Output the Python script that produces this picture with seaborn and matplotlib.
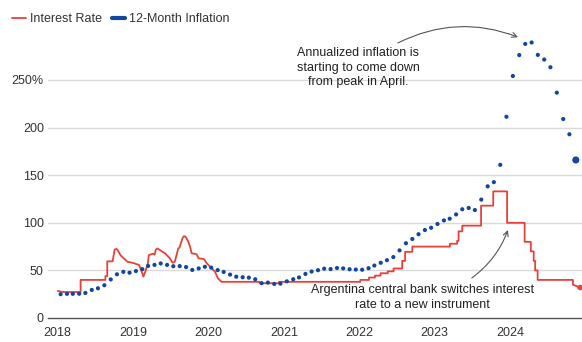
import matplotlib
matplotlib.use("Agg")
import matplotlib.pyplot as plt
from matplotlib.lines import Line2D
import pandas as pd
import seaborn as sns

# ---------------- data ----------------
rate_dates = [
    "2018-01-01", "2018-01-20", "2018-02-05", "2018-04-22", "2018-04-22",
    "2018-08-20", "2018-08-20", "2018-08-29", "2018-08-29", "2018-09-24",
    "2018-10-04", "2018-10-14", "2018-10-22", "2018-11-01", "2018-12-05",
    "2018-12-30", "2019-01-30", "2019-02-08", "2019-02-20", "2019-03-02",
    "2019-03-14", "2019-03-18", "2019-04-08", "2019-04-15", "2019-04-22",
    "2019-04-30", "2019-05-20", "2019-06-05", "2019-06-28", "2019-07-12",
    "2019-07-22", "2019-08-08", "2019-08-14", "2019-08-29", "2019-09-05",
    "2019-09-12", "2019-09-24", "2019-10-04", "2019-10-12", "2019-11-05",
    "2019-11-14", "2019-12-10", "2019-12-25", "2020-01-08", "2020-02-02",
    "2020-02-16", "2020-03-05", "2020-09-05", "2020-09-05", "2020-12-08",
    "2020-12-08", "2022-01-06", "2022-01-06", "2022-02-17", "2022-02-17",
    "2022-03-18", "2022-03-18", "2022-04-14", "2022-04-14", "2022-05-19",
    "2022-05-19", "2022-06-16", "2022-06-16", "2022-07-28", "2022-07-28",
    "2022-08-11", "2022-08-11", "2022-09-15", "2022-09-15", "2023-03-16",
    "2023-03-16", "2023-04-20", "2023-04-20", "2023-04-27", "2023-04-27",
    "2023-05-15", "2023-05-15", "2023-08-14", "2023-08-14", "2023-10-12",
    "2023-10-12", "2023-12-18", "2023-12-18", "2024-03-12", "2024-03-12",
    "2024-04-11", "2024-04-11", "2024-04-25", "2024-04-25", "2024-05-02",
    "2024-05-02", "2024-05-14", "2024-05-14", "2024-11-01", "2024-11-01",
    "2024-12-06",
]
rate_values = [
    28.5, 27.5, 27.25, 27.25, 40,
    40, 44, 44, 59.5, 59.5,
    72, 72.5, 70, 66, 59,
    58, 55.7, 51, 43.5, 49,
    57.4, 66, 67.6, 66.5, 72,
    73, 70, 68, 62.7, 58,
    59, 73, 74, 84, 86,
    85.4, 81, 75, 68, 67,
    62.7, 62, 57.4, 54, 48.7,
    41.7, 38, 38, 36.5, 36.5,
    38, 38, 40, 40, 42.5,
    42.5, 44.5, 44.5, 47, 47,
    49, 49, 52, 52, 60,
    60, 69.5, 69.5, 75, 75,
    78, 78, 81, 81, 91,
    91, 97, 97, 118, 118,
    133, 133, 100, 100, 80,
    80, 70, 70, 60, 60,
    50, 50, 40, 40, 35,
    32,
]

inflation_values = [
    25.0, 25.4, 25.4, 25.5, 26.3, 29.5, 31.2, 34.4, 40.5, 45.9, 48.5, 47.6,
    49.3, 51.3, 54.7, 55.8, 57.3, 55.8, 54.4, 54.5, 53.5, 50.5, 52.1, 53.8,
    52.9, 50.3, 48.4, 45.6, 43.4, 42.8, 42.4, 40.7, 36.6, 37.2, 35.8, 36.1,
    38.5, 40.7, 42.6, 46.3, 48.8, 50.2, 51.8, 51.4, 52.5, 52.1, 51.2, 50.9,
    50.7, 52.3, 55.1, 58.0, 60.7, 64.0, 71.0, 78.5, 83.0, 88.0, 92.4, 94.8,
    98.8, 102.5, 104.3, 108.8, 114.2, 115.6, 113.4, 124.4, 138.3, 142.7, 160.9, 211.4,
    254.2, 276.2, 287.9, 289.4, 276.4, 271.5, 263.4, 236.7, 209.0, 193.0, 166.0,
]

year_ticks = [2018, 2019, 2020, 2021, 2022, 2023, 2024]
y_ticks = [0, 50, 100, 150, 200, 250]
y_tick_labels = ["0", "50", "100", "150", "200", "250%"]

RED = "#e8413a"
BLUE = "#11479e"
TXT = "#333333"
FS = 9

# ---------------- frames ----------------
rate_df = pd.DataFrame({"date": pd.to_datetime(rate_dates), "rate": rate_values})
infl_dates = pd.date_range("2018-01-01", periods=len(inflation_values), freq="MS") + pd.Timedelta(days=14)
infl_df = pd.DataFrame({"date": infl_dates, "inflation": inflation_values})

# ---------------- style ----------------
sns.set_style("white")
plt.rcParams["font.family"] = ["Liberation Sans", "DejaVu Sans"]
plt.rcParams["font.size"] = FS

fig = plt.figure(figsize=(5.82, 3.42), dpi=100)
ax = fig.add_axes([48 / 582, 24 / 342, 534 / 582, (318 - 32.4) / 342])

for v in y_ticks[1:]:
    ax.axhline(v, color="#dadada", lw=1.0, zorder=0)

sns.lineplot(data=rate_df, x="date", y="rate", estimator=None, sort=False,
             color=RED, lw=1.3, ax=ax, zorder=3)
sns.scatterplot(data=infl_df, x="date", y="inflation", color=BLUE, s=9,
                edgecolor="none", ax=ax, zorder=4, clip_on=False)

last_inf = infl_df.iloc[[-1]]
sns.scatterplot(data=last_inf, x="date", y="inflation", color=BLUE, s=26,
                edgecolor="none", ax=ax, zorder=5, clip_on=False)
last_rate = rate_df.iloc[[-1]]
sns.scatterplot(data=last_rate, x="date", y="rate", color=RED, s=16,
                edgecolor="none", ax=ax, zorder=5, clip_on=False)

ax.set_xlim(pd.Timestamp("2017-11-15"), pd.Timestamp("2024-12-15"))
ax.set_ylim(0, 300)
ax.set_yticks(y_ticks)
ax.set_yticklabels(y_tick_labels)
ax.set_xticks([pd.Timestamp(f"{y}-01-01") for y in year_ticks])
ax.set_xticklabels([str(y) for y in year_ticks])
ax.tick_params(axis="both", length=0, colors=TXT, labelsize=FS)
ax.tick_params(axis="x", pad=6.5)
ax.tick_params(axis="y", pad=3)
ax.set_xlabel("")
ax.set_ylabel("")
for s in ["top", "right", "left"]:
    ax.spines[s].set_visible(False)
ax.spines["bottom"].set_color("#555555")
ax.spines["bottom"].set_linewidth(1.0)
ax.patch.set_alpha(0)

# ---------------- annotations ----------------
ax.text(pd.Timestamp("2021-12-27"), 263,
        "Annualized inflation is\nstarting to come down\nfrom peak in April.",
        ha="center", va="center", fontsize=FS, color="#222222", linespacing=1.3,
        zorder=6)
ax.annotate("", xy=(pd.Timestamp("2024-02-09"), 295),
            xytext=(pd.Timestamp("2022-07-07"), 288.9),
            arrowprops=dict(arrowstyle="->", color="#555555", lw=0.8,
                            connectionstyle="arc3,rad=-0.22",
                            shrinkA=0, shrinkB=0),
            annotation_clip=False)

ax.text(pd.Timestamp("2022-11-05"), 21.5,
        "Argentina central bank switches interest\nrate to a new instrument",
        ha="center", va="center", fontsize=FS, color="#222222", linespacing=1.3,
        zorder=6)
ax.annotate("", xy=(pd.Timestamp("2023-12-22"), 92.4),
            xytext=(pd.Timestamp("2023-06-30"), 42),
            arrowprops=dict(arrowstyle="->", color="#555555", lw=0.8,
                            connectionstyle="arc3,rad=0.15",
                            shrinkA=0, shrinkB=0))

# ---------------- legend ----------------
handles = [Line2D([0], [0], color=RED, lw=1.3),
           Line2D([0], [0], color=BLUE, lw=3)]
ax.legend(handles, ["Interest Rate", "12-Month Inflation"], ncol=2,
          loc="upper left", bbox_to_anchor=(12 / 582, 1 - 13 / 342),
          bbox_transform=fig.transFigure, frameon=False, fontsize=FS,
          handlelength=1.1, handletextpad=0.3, columnspacing=0.8,
          borderpad=0, borderaxespad=0, labelcolor=TXT)

fig.savefig("out.png", dpi=100)
